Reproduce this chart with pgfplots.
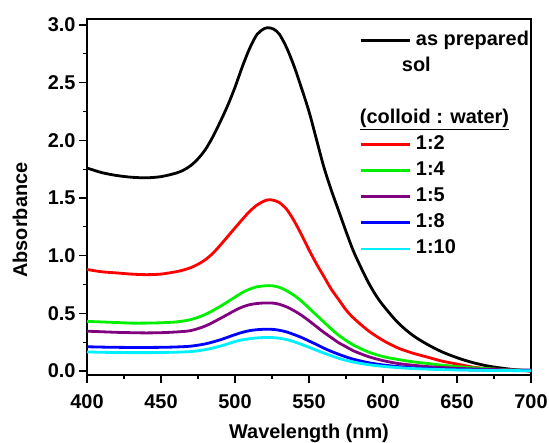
\documentclass[border=0pt]{standalone}
\usepackage{fontspec}
\setmainfont{Liberation Sans}
\usepackage{pgfplots}
\pgfplotsset{compat=1.18}

\definecolor{cgreen}{RGB}{0,240,0}
\definecolor{cpurple}{RGB}{128,0,128}
\definecolor{ccyan}{RGB}{0,240,255}

\newcommand{\lblfont}{\fontsize{20}{24}\selectfont\bfseries}

\begin{document}
\begin{tikzpicture}
\useasboundingbox (-87bp,-68bp) rectangle (462bp,375bp);
\begin{axis}[
    at={(0,0)}, anchor=south west,
    scale only axis, width=444bp, height=356bp,
    xmin=400, xmax=700, ymin=-0.035, ymax=3.052,
    xtick={400,450,...,700},
    ytick={0,0.5,...,3.0},
    minor x tick num=1, minor y tick num=1,
    tick align=outside, tick pos=left,
    major tick length=8bp, minor tick length=4bp,
    axis line style={line width=1.2bp},
    every tick/.style={black, line width=1.2bp},
    /pgf/number format/assume math mode=true,
    tick label style={font=\lblfont},
    yticklabel style={/pgf/number format/.cd, fixed, fixed zerofill, precision=1},
    xticklabel style={yshift=-8bp, /pgf/number format/.cd, fixed, precision=0, 1000 sep={}},
    label style={font=\lblfont},
    xlabel={Wavelength (nm)},
    ylabel={Absorbance},
    xlabel style={at={(axis description cs:0.5,-0.165)}, anchor=center},
    ylabel style={at={(axis description cs:-0.151,0.435)}, anchor=center},
    legend cell align=left,
    legend style={draw=none, fill=none, font=\lblfont, inner sep=0pt,
        at={(axis description cs:0.6126,0.9665)}, anchor=north west,
        row sep=8.1bp,
        nodes={inner sep=0pt, text height=14bp, text depth=4bp},
        /tikz/every odd column/.append style={column sep=5bp}},
    legend image code/.code={\draw[#1, line width=2.8bp] (0bp,0bp) -- (49bp,0bp);},
    every axis plot/.append style={line width=2.8bp, smooth, tension=0.5},
]
% as prepared sol
\addplot[black] coordinates {
(400,1.76) (410,1.72) (420,1.695) (430,1.68) (440,1.675) (450,1.685) (460,1.715)
(465,1.74) (470,1.78) (475,1.84) (480,1.92) (485,2.03) (490,2.16) (495,2.30)
(500,2.46) (505,2.64) (510,2.80) (515,2.92) (520,2.97) (523,2.975) (526,2.965)
(530,2.92) (535,2.80) (540,2.64) (545,2.45) (550,2.25) (555,2.01) (560,1.77)
(565,1.57) (570,1.39) (575,1.21) (580,1.04) (585,0.90) (590,0.77) (595,0.66)
(600,0.57) (610,0.42) (620,0.31) (630,0.23) (640,0.165) (650,0.115) (660,0.075)
(670,0.045) (680,0.025) (690,0.01) (700,0.0)};
\addlegendentry{as prepared}
\addlegendimage{empty legend}
\addlegendentry{\hspace*{-14bp}sol}
\addlegendimage{empty legend}
\addlegendentry{}
\addlegendimage{empty legend}
\addlegendentry{\hspace*{-56bp}\underline{(colloid : water)}}
% 1:2
\addplot[red] coordinates {
(400,0.88) (410,0.86) (420,0.85) (430,0.84) (440,0.835) (450,0.84) (460,0.86)
(465,0.875) (470,0.895) (475,0.925) (480,0.965) (485,1.02) (490,1.09) (495,1.165)
(500,1.24) (505,1.315) (510,1.385) (515,1.44) (520,1.475) (523,1.485) (526,1.48)
(530,1.46) (535,1.40) (540,1.30) (545,1.18) (550,1.05) (555,0.93) (560,0.82)
(565,0.71) (570,0.62) (575,0.53) (580,0.46) (590,0.35) (600,0.265) (610,0.20)
(620,0.155) (630,0.12) (640,0.085) (650,0.06) (660,0.035) (670,0.02) (680,0.012)
(690,0.005) (700,0.0)};
\addlegendentry{1:2}
% 1:4
\addplot[cgreen] coordinates {
(400,0.43) (410,0.425) (420,0.42) (430,0.415) (440,0.415) (450,0.418) (460,0.425)
(470,0.445) (480,0.49) (490,0.56) (500,0.64) (505,0.68) (510,0.71) (515,0.73)
(520,0.738) (523,0.74) (526,0.737) (530,0.725) (535,0.695) (540,0.655) (545,0.605)
(550,0.545) (555,0.485) (560,0.425) (565,0.365) (570,0.31) (575,0.265) (580,0.225)
(590,0.165) (600,0.125) (610,0.1) (620,0.08) (630,0.065) (640,0.05) (650,0.038)
(660,0.028) (670,0.02) (680,0.013) (690,0.008) (700,0.005)};
\addlegendentry{1:4}
% 1:5
\addplot[cpurple] coordinates {
(400,0.345) (410,0.34) (420,0.335) (430,0.332) (440,0.33) (450,0.332) (460,0.338)
(470,0.35) (480,0.39) (490,0.455) (500,0.525) (505,0.555) (510,0.575) (515,0.585)
(520,0.59) (523,0.59) (526,0.588) (530,0.578) (535,0.555) (540,0.522) (545,0.482)
(550,0.435) (555,0.385) (560,0.335) (565,0.29) (570,0.245) (575,0.21) (580,0.175)
(590,0.125) (600,0.09) (610,0.065) (620,0.05) (630,0.038) (640,0.03) (650,0.023)
(660,0.018) (670,0.014) (680,0.011) (690,0.009) (700,0.008)};
\addlegendentry{1:5}
% 1:8
\addplot[blue] coordinates {
(400,0.21) (410,0.207) (420,0.205) (430,0.204) (440,0.204) (450,0.205) (460,0.208)
(470,0.215) (480,0.235) (490,0.27) (500,0.315) (505,0.335) (510,0.35) (515,0.358)
(520,0.362) (523,0.362) (526,0.36) (530,0.353) (535,0.338) (540,0.315) (545,0.29)
(550,0.26) (555,0.23) (560,0.198) (565,0.17) (570,0.145) (575,0.122) (580,0.102)
(590,0.072) (600,0.052) (610,0.038) (620,0.028) (630,0.021) (640,0.016) (650,0.012)
(660,0.009) (670,0.007) (680,0.005) (690,0.004) (700,0.003)};
\addlegendentry{1:8}
% 1:10
\addplot[ccyan] coordinates {
(400,0.165) (410,0.162) (420,0.16) (430,0.159) (440,0.159) (450,0.16) (460,0.163)
(470,0.168) (480,0.185) (490,0.215) (500,0.255) (505,0.27) (510,0.28) (515,0.287)
(520,0.29) (523,0.29) (526,0.289) (530,0.284) (535,0.272) (540,0.253) (545,0.23)
(550,0.205) (555,0.18) (560,0.155) (565,0.132) (570,0.11) (575,0.092) (580,0.077)
(590,0.055) (600,0.04) (610,0.029) (620,0.021) (630,0.016) (640,0.012) (650,0.009)
(660,0.007) (670,0.005) (680,0.004) (690,0.003) (700,0.002)};
\addlegendentry{1:10}
\end{axis}
\end{tikzpicture}
\end{document}
